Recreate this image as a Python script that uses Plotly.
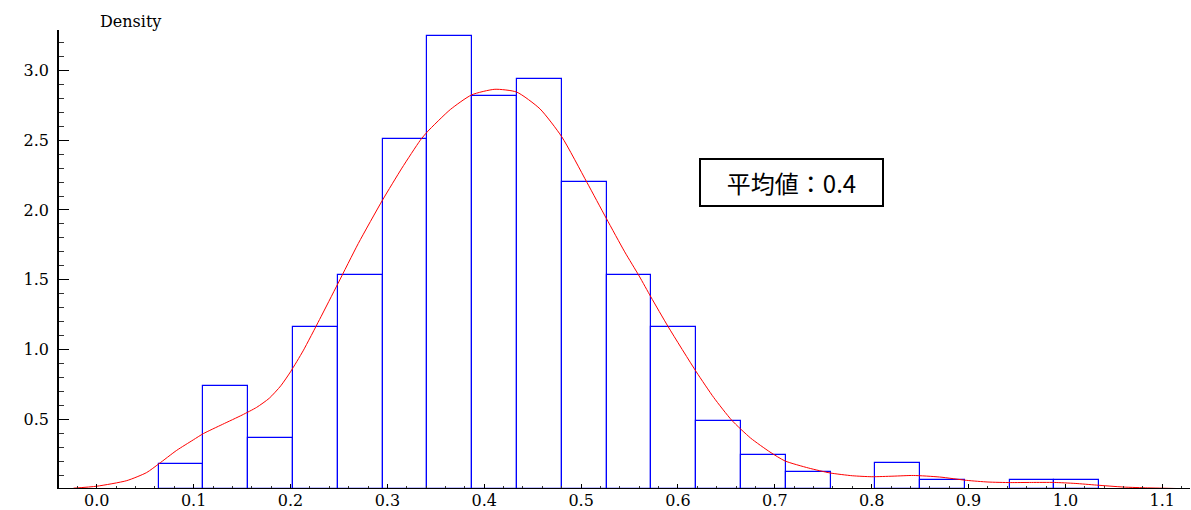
import plotly.graph_objects as go

# ---- data ----
bin_start = 0.0639
bin_width = 0.04624
bin_density = [0.182, 0.735, 0.368, 1.163, 1.531, 2.510, 3.245, 2.816, 2.939,
               2.204, 1.531, 1.163, 0.490, 0.245, 0.122, None, 0.184, 0.061,
               None, 0.061, 0.061]

kde_x = [-0.024, 0.0, 0.031, 0.0515, 0.064, 0.0825, 0.0996, 0.11, 0.13, 0.15,
         0.165, 0.178, 0.19, 0.2, 0.213, 0.23, 0.249, 0.27, 0.295, 0.315, 0.334,
         0.3412, 0.365, 0.387, 0.411, 0.4335, 0.4575, 0.48, 0.506, 0.526, 0.545,
         0.56, 0.572, 0.59, 0.619, 0.637, 0.6555, 0.675, 0.695, 0.7105, 0.735,
         0.757, 0.78, 0.80, 0.822, 0.843, 0.87, 0.898, 0.92, 0.943, 0.965,
         0.9885, 1.01, 1.032, 1.06, 1.085, 1.1, 1.118]
kde_y = [0.006, 0.02, 0.060, 0.118, 0.180, 0.277, 0.352, 0.397, 0.464, 0.53,
         0.585, 0.650, 0.740, 0.840, 0.99, 1.215, 1.473, 1.76, 2.071, 2.30, 2.50,
         2.56, 2.72, 2.825, 2.865, 2.845, 2.725, 2.525, 2.198, 1.94, 1.70,
         1.526, 1.377, 1.162, 0.839, 0.655, 0.493, 0.365, 0.265, 0.201, 0.150,
         0.115, 0.095, 0.088, 0.092, 0.097, 0.086, 0.062, 0.050, 0.046, 0.047,
         0.047, 0.040, 0.028, 0.014, 0.008, 0.006, 0.003]

mean_text = "平均値：0.4"
y_label = "Density"
x_ticks = [0.0, 0.1, 0.2, 0.3, 0.4, 0.5, 0.6, 0.7, 0.8, 0.9, 1.0, 1.1]
y_ticks = [0.5, 1.0, 1.5, 2.0, 2.5, 3.0]

bin_centers = [bin_start + bin_width * (i + 0.5) for i in range(len(bin_density))]

fig = go.Figure()
fig.add_trace(go.Bar(
    x=bin_centers, y=bin_density, width=bin_width,
    marker=dict(color="rgba(0,0,255,0)", line=dict(color="#0000ff", width=1.2)),
    showlegend=False, hoverinfo="skip",
))
fig.add_trace(go.Scatter(
    x=kde_x, y=kde_y, mode="lines",
    line=dict(color="#ff0000", width=1, shape="spline", smoothing=0.6),
    showlegend=False,
))

tick_font = dict(family="DejaVu Serif", size=16, color="black")

# plot area: left 59, right 1190, top 30, bottom 489 (pixels)
def px_x(p):
    return (p - 59) / 1131

def px_y(p):
    return (489 - p) / 459

fig.update_layout(
    template="none",
    width=1191, height=510,
    margin=dict(l=59, r=1, t=30, b=21, pad=0),
    paper_bgcolor="white", plot_bgcolor="white",
    barmode="overlay", bargap=0,
    xaxis=dict(
        range=[-0.039, 1.1286], tickvals=x_ticks, ticktext=[f"{v:.1f}" for v in x_ticks],
        showgrid=False, zeroline=False, showline=False,
        ticks="inside", ticklen=5, tickwidth=1.2, tickcolor="black",
        minor=dict(dtick=0.02, tick0=0, ticks="inside", ticklen=3, tickwidth=1, tickcolor="#333",
                   showgrid=False),
        tickfont=tick_font, automargin=False, layer="above traces",
    ),
    yaxis=dict(
        range=[0, 3.29], tickvals=y_ticks, ticktext=[f"{v:.1f}" for v in y_ticks],
        showgrid=False, zeroline=False, showline=True, linecolor="black", linewidth=1.5,
        ticks="inside", ticklen=10, tickwidth=1.2, tickcolor="black",
        minor=dict(dtick=0.1, tick0=0, ticks="inside", ticklen=5, tickwidth=1, tickcolor="#333",
                   showgrid=False),
        tickfont=tick_font, automargin=False, layer="above traces",
        ticklabelstandoff=5,
    ),
    shapes=[
        dict(type="line", xref="paper", yref="y", x0=-0.001, x1=1, y0=0, y1=0,
             line=dict(color="black", width=2), layer="above"),
    ],
    annotations=[
        dict(text=y_label, xref="paper", yref="paper", x=px_x(130), y=px_y(22),
             xanchor="center", yanchor="middle", showarrow=False,
             font=dict(family="DejaVu Serif", size=16, color="black")),
        dict(text=mean_text, xref="paper", yref="paper", x=px_x(791.5), y=px_y(182.5),
             xanchor="center", yanchor="middle", showarrow=False,
             font=dict(family="Noto Sans CJK JP", size=24, color="black"),
             bordercolor="black", borderwidth=2, borderpad=2, width=177, height=41,
             bgcolor="white"),
    ],
)

fig.write_html("out.html")
